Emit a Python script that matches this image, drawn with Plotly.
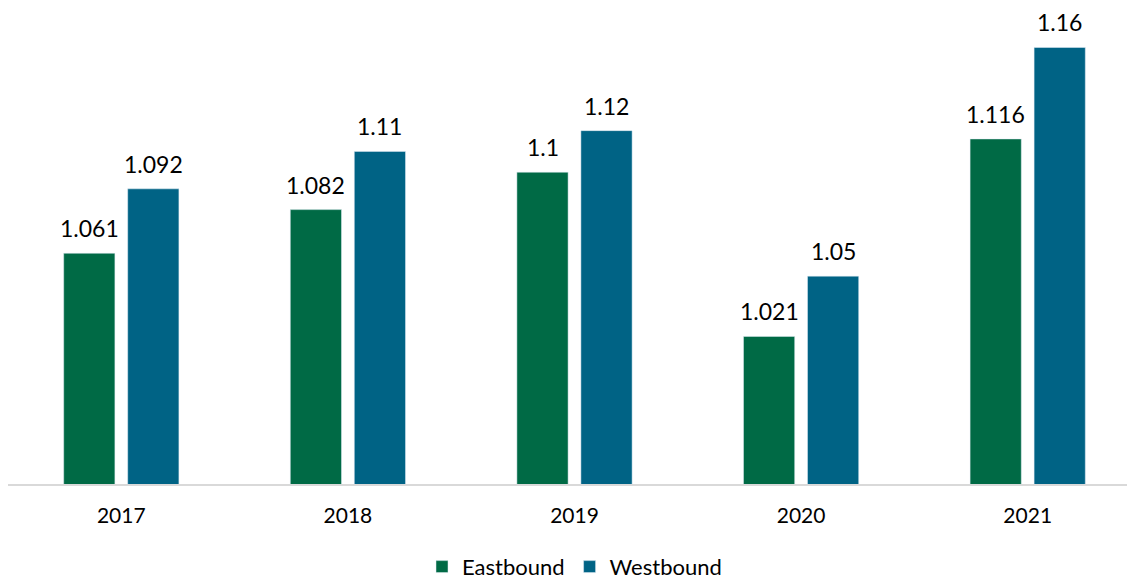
import plotly.graph_objects as go

years = ["2017", "2018", "2019", "2020", "2021"]
eastbound = [1.061, 1.082, 1.1, 1.021, 1.116]
westbound = [1.092, 1.11, 1.12, 1.05, 1.16]

green = "#006A45"
blue = "#006385"
font = "Lato"

fig = go.Figure()
fig.add_bar(x=years, y=eastbound, name="Eastbound", marker_color=green)
fig.add_bar(x=years, y=westbound, name="Westbound", marker_color=blue)

# value labels above the bars (category axis: annotation x is the category index)
for i, (e, w) in enumerate(zip(eastbound, westbound)):
    for val, shift in ((e, -32), (w, 32)):
        fig.add_annotation(x=i, y=val, xref="x", yref="y", text=f"{val:g}",
                           showarrow=False, xshift=shift, yanchor="bottom",
                           yshift=9, font=dict(family=font, size=23, color="#000"))

fig.update_layout(
    width=1135, height=581,
    margin=dict(l=0, r=2, t=0, b=105, autoexpand=False),
    plot_bgcolor="white", paper_bgcolor="white",
    barmode="group", bargap=0.435, bargroupgap=0.2,
    font=dict(family=font, size=21, color="#000"),
    legend=dict(orientation="h", x=0.5, xanchor="center",
                y=-0.174, yanchor="middle", font=dict(size=22)),
    showlegend=True,
)
fig.update_xaxes(type="category", range=[-0.5, 4.5], showline=True,
                 linecolor="#D9D9D9", linewidth=2,
                 ticks="outside", ticklen=12, tickcolor="white",
                 tickfont=dict(size=21))
fig.update_yaxes(range=[0.95, 1.179], showticklabels=False, showgrid=False,
                 zeroline=False, showline=False)

fig.write_html("out.html")
